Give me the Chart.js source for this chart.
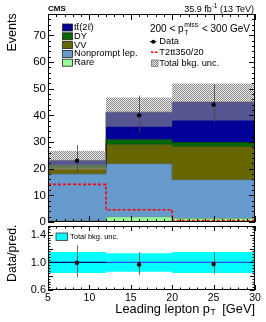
<!DOCTYPE html>
<html><head><meta charset="utf-8">
<script src="https://cdn.jsdelivr.net/npm/chart.js@4.4.1/dist/chart.umd.min.js"></script>
<style>
html,body{margin:0;padding:0;background:#fff;width:266px;height:322px;overflow:hidden}
#c1{position:absolute;left:0;top:0;z-index:2}
#c2{position:absolute;left:0;top:222px;z-index:1}
</style></head><body>
<canvas id="c1" width="266" height="232"></canvas>
<canvas id="c2" width="266" height="100"></canvas>
<script>
// ---------- data ----------
const binEdges = [5, 12, 20, 30];
const binCenters = [8.5, 16, 25];
const rare = [0.6, 2.0, 1.5];
const nonprompt = [17.5, 19.9, 14.4];
const vv = [2.5, 7.2, 12.5];
const dy = [0.9, 1.9, 1.6];
const ttbar = [1.6, 10.2, 15.0];
const bkgUnc = [3.5, 5.5, 6.9];
const signal = [14.1, 4.6, 0.5];
const dataObs = [23, 40, 44];
const dataErrUp = [5.9, 7.4, 7.7];
const dataErrDown = [4.8, 6.3, 6.6];
const yTicksMain = [0, 10, 20, 30, 40, 50, 60, 70];
const yTicksRatio = [0.6, 0.8, 1.0, 1.2, 1.4];
const xTicks = [5, 10, 15, 20, 25, 30];
const legendNames = ['tt\u0304(2\u2113)', 'DY', 'VV', 'Nonprompt lep.', 'Rare'];

const FONT = "'Liberation Sans', Arial, Helvetica, sans-serif";

// ---------- helpers ----------
function steps(vals) {
  const pts = vals.map((v, i) => ({x: binEdges[i], y: v}));
  pts.push({x: binEdges[binEdges.length - 1], y: vals[vals.length - 1]});
  return pts;
}
function makeChecker() {
  const c = document.createElement('canvas'); c.width = 2; c.height = 2;
  const g = c.getContext('2d');
  g.fillStyle = 'rgba(115,115,115,0.85)';
  g.fillRect(0, 0, 1, 1); g.fillRect(1, 1, 1, 1);
  g.fillStyle = 'rgba(210,210,210,0.35)';
  g.fillRect(1, 0, 1, 1); g.fillRect(0, 1, 1, 1);
  return g.createPattern(c, 'repeat');
}
const checker = makeChecker();

const comps = [
  {name: 'Rare', v: rare, c: '#99ff99'},
  {name: 'Nonprompt lep.', v: nonprompt, c: '#6699cc'},
  {name: 'VV', v: vv, c: '#666600'},
  {name: 'DY', v: dy, c: '#006600'},
  {name: 'tt', v: ttbar, c: '#000099'}
];
let run = [0, 0, 0];
const stackSets = comps.map((cp, i) => {
  run = run.map((r, k) => r + cp.v[k]);
  return {
    label: cp.name, data: steps(run.slice()), stepped: 'before',
    fill: i === 0 ? 'origin' : '-1', backgroundColor: cp.c,
    borderColor: 'rgba(20,20,20,0.6)', borderWidth: 1, pointRadius: 0, order: 10 - i
  };
});
const total = run.slice();
const lo = total.map((t, i) => t - bkgUnc[i]);
const hi = total.map((t, i) => t + bkgUnc[i]);
const ratio = dataObs.map((d, i) => d / total[i]);
const rUp = dataErrUp.map((e, i) => e / total[i]);
const rDn = dataErrDown.map((e, i) => e / total[i]);
const rLo = total.map((t, i) => 1 - bkgUnc[i] / t);
const rHi = total.map((t, i) => 1 + bkgUnc[i] / t);

// ---------- plugins ----------
function line(ctx, x1, y1, x2, y2) { ctx.beginPath(); ctx.moveTo(x1, y1); ctx.lineTo(x2, y2); ctx.stroke(); }

function frameTicks(o) {
  return {
    id: 'frameTicks',
    afterDatasetsDraw(chart) {
      const {ctx, chartArea: a, scales: {x, y}} = chart;
      ctx.save(); ctx.strokeStyle = '#000'; ctx.lineWidth = 1;
      for (let v = x.min; v <= x.max + 1e-9; v += 1) {
        const px = Math.round(x.getPixelForValue(v)) + 0.5;
        const len = (Math.round(v) % 5 === 0) ? o.xMaj : o.xMin;
        line(ctx, px, a.bottom, px, a.bottom - len);
        line(ctx, px, a.top, px, a.top + len);
      }
      for (let k = 0; ; k++) {
        const v = y.min + k * o.yMinStep;
        if (v > y.max + 1e-9) break;
        const py = Math.round(y.getPixelForValue(v)) + 0.5;
        const len = (k % o.yPer === 0) ? o.yMaj : o.yMin;
        line(ctx, a.left, py, a.left + len, py);
        line(ctx, a.right, py, a.right - len, py);
      }
      ctx.strokeRect(a.left + 0.5, a.top + 0.5, a.width - 1, a.height - 1);
      ctx.restore();
    }
  };
}
const errBars = {
  id: 'errBars',
  beforeDatasetDraw(chart, args) {
    const ds = chart.data.datasets[args.index];
    if (!ds.errUp) return;
    const {ctx, scales: {x, y}} = chart;
    ctx.save(); ctx.strokeStyle = 'rgba(70,70,70,0.8)'; ctx.lineWidth = 1;
    ds.data.forEach((p, i) => {
      const px = Math.round(x.getPixelForValue(p.x)) + 0.5;
      line(ctx, px, y.getPixelForValue(p.y + ds.errUp[i]), px, y.getPixelForValue(p.y - ds.errDn[i]));
    });
    ctx.restore();
  }
};
function txt(ctx, s, x, y, size, opt) {
  opt = opt || {};
  ctx.font = (opt.bold ? 'bold ' : '') + size + 'px ' + FONT;
  ctx.fillStyle = opt.color || '#000';
  ctx.textAlign = opt.align || 'left';
  ctx.textBaseline = opt.base || 'middle';
  ctx.fillText(s, x, y);
  return ctx.measureText(s).width;
}
const mainText = {
  id: 'mainText',
  afterDraw(chart) {
    const ctx = chart.ctx;
    ctx.save();
    txt(ctx, 'CMS', 48, 9, 8, {bold: true});
    // lumi
    ctx.font = '9px ' + FONT; const w1 = ctx.measureText('35.9 fb').width;
    ctx.font = '6.5px ' + FONT; const w2 = ctx.measureText('-1').width;
    ctx.font = '9px ' + FONT; const w3 = ctx.measureText(' (13 TeV)').width;
    let sx = 254 - (w1 + w2 + w3);
    txt(ctx, '35.9 fb', sx, 9.5, 9);
    txt(ctx, '-1', sx + w1, 6.5, 6.5);
    txt(ctx, ' (13 TeV)', sx + w1 + w2, 9.5, 9);
    // Events
    ctx.save(); ctx.translate(15.5, 13.3); ctx.rotate(-Math.PI / 2);
    txt(ctx, 'Events', 0, 0, 12.5, {align: 'right', base: 'alphabetic'});
    ctx.restore();
    // left legend
    const rows = [27.5, 36.3, 45.1, 53.9, 62.7];
    const legCols = ['#000099', '#006600', '#666600', '#6699cc', '#99ff99'];
    rows.forEach((ry, i) => {
      ctx.fillStyle = legCols[i]; ctx.fillRect(62.5, ry - 3.5, 10, 7);
      ctx.strokeStyle = '#222'; ctx.lineWidth = 0.8; ctx.strokeRect(62.5, ry - 3.5, 10, 7);
      txt(ctx, legendNames[i], 74, ry, 9.3);
    });
    // right legend header
    const hw = txt(ctx, '200 < p', 150, 29, 10);
    const sw = txt(ctx, 'miss', 150 + hw + 0.5, 25, 6.8);
    txt(ctx, 'T', 150 + hw + 0.5, 32.8, 6.8);
    txt(ctx, ' < 300 GeV', 150 + hw + sw + 1.5, 29, 10);
    // Data
    ctx.strokeStyle = '#000'; ctx.lineWidth = 1;
    line(ctx, 150, 41.7, 156.5, 41.7);
    ctx.beginPath(); ctx.arc(153.3, 41.7, 2, 0, Math.PI * 2); ctx.fillStyle = '#000'; ctx.fill();
    txt(ctx, 'Data', 159.3, 41.7, 9.3);
    // signal
    ctx.strokeStyle = '#ff0000'; ctx.lineWidth = 1.6; ctx.setLineDash([2.5, 1.5]);
    line(ctx, 151, 52.3, 157.5, 52.3); ctx.setLineDash([]);
    txt(ctx, 'T2tt350/20', 159.3, 52.3, 9.3);
    // bkg unc
    ctx.fillStyle = checker; ctx.fillRect(151.5, 60, 6.5, 6.5);
    ctx.strokeStyle = '#777'; ctx.lineWidth = 0.8; ctx.strokeRect(151.5, 60, 6.5, 6.5);
    txt(ctx, 'Total bkg. unc.', 159.3, 63.3, 9.3);
    ctx.restore();
  }
};
const ratioText = {
  id: 'ratioText',
  afterDraw(chart) {
    const ctx = chart.ctx;
    ctx.save();
    ctx.save(); ctx.translate(15.5, 2.5); ctx.rotate(-Math.PI / 2);
    txt(ctx, 'Data/pred.', 0, 0, 12.3, {align: 'right', base: 'alphabetic'});
    ctx.restore();
    // legend
    ctx.fillStyle = '#00ffff'; ctx.fillRect(56, 11, 11.5, 7.5);
    ctx.strokeStyle = '#333'; ctx.lineWidth = 0.8; ctx.strokeRect(56, 11, 11.5, 7.5);
    txt(ctx, 'Total bkg. unc.', 70, 15, 7.5);
    // x title
    ctx.font = '12.8px ' + FONT; const a = ctx.measureText('Leading lepton p').width;
    ctx.font = '8.5px ' + FONT; const b = ctx.measureText('T').width;
    ctx.font = '12.8px ' + FONT; const c = ctx.measureText('  [GeV]').width;
    const sx = 255 - (a + b + c);
    txt(ctx, 'Leading lepton p', sx, 87, 12.8);
    txt(ctx, 'T', sx + a + 0.5, 91, 8.5);
    txt(ctx, '  [GeV]', sx + a + b, 87, 12.8);
    ctx.restore();
  }
};

function yScale(min, max, ticks, size, cb) {
  return {
    type: 'linear', min, max,
    afterFit(s) { s.width = 48; s.paddingTop = 0; s.paddingBottom = 0; },
    afterBuildTicks(s) { s.ticks = ticks.map(v => ({value: v})); },
    grid: {display: false, drawTicks: false}, border: {display: false},
    ticks: {color: '#000', padding: 2, font: {family: FONT, size}, callback: cb || (v => String(v))}
  };
}

// ---------- main chart ----------
new Chart(document.getElementById('c1'), {
  type: 'line',
  data: {
    datasets: [
      ...stackSets,
      {label: 'lo', data: steps(lo), stepped: 'before', fill: false, borderWidth: 0, pointRadius: 0, order: 3},
      {label: 'Total bkg. unc.', data: steps(hi), stepped: 'before', fill: '-1', backgroundColor: checker, borderWidth: 0, pointRadius: 0, order: 2},
      {label: 'T2tt350/20', data: steps(signal), stepped: 'before', fill: false, borderColor: '#ff0000', borderWidth: 1.6, borderDash: [3, 2], pointRadius: 0, order: 1},
      {label: 'Data', data: binCenters.map((x, i) => ({x, y: dataObs[i]})), errUp: dataErrUp, errDn: dataErrDown,
       showLine: false, pointRadius: 2.2, pointBackgroundColor: '#000', pointBorderColor: '#000', pointBorderWidth: 0, order: 0}
    ]
  },
  options: {
    responsive: false, animation: false, devicePixelRatio: 1,
    layout: {padding: {left: 0, right: 11, top: 14, bottom: 10}},
    plugins: {legend: {display: false}, tooltip: {enabled: false}},
    scales: {
      x: {type: 'linear', min: 5, max: 30, display: false},
      y: yScale(0, 78, yTicksMain, 11.5)
    }
  },
  plugins: [errBars, frameTicks({xMaj: 6, xMin: 3, yMinStep: 2, yPer: 5, yMaj: 6, yMin: 3}), mainText]
});

// ---------- ratio chart ----------
new Chart(document.getElementById('c2'), {
  type: 'line',
  data: {
    datasets: [
      {label: 'rlo', data: steps(rLo), stepped: 'before', fill: false, borderWidth: 0, pointRadius: 0, order: 5},
      {label: 'Total bkg. unc.', data: steps(rHi), stepped: 'before', fill: '-1', backgroundColor: '#00ffff', borderWidth: 0, pointRadius: 0, order: 4},
      {label: 'one', data: steps([1, 1, 1]), stepped: 'before', fill: false, borderWidth: 1.3, pointRadius: 0, order: 3,
       segment: {borderColor: c => (c.p0DataIndex === 0 ? '#000080' : '#2a4cff')}},
      {label: 'Data/pred.', data: binCenters.map((x, i) => ({x, y: ratio[i]})), errUp: rUp, errDn: rDn,
       showLine: false, pointRadius: 2.2, pointBackgroundColor: '#000', pointBorderColor: '#000', pointBorderWidth: 0, order: 0}
    ]
  },
  options: {
    responsive: false, animation: false, devicePixelRatio: 1,
    layout: {padding: {left: 0, right: 11, top: 0, bottom: 0}},
    plugins: {legend: {display: false}, tooltip: {enabled: false}},
    scales: {
      x: {
        type: 'linear', min: 5, max: 30,
        afterFit(s) { s.height = 32; s.paddingLeft = 0; s.paddingRight = 0; },
        afterBuildTicks(s) { s.ticks = xTicks.map(v => ({value: v})); },
        grid: {display: false, drawTicks: false}, border: {display: false},
        ticks: {color: '#000', padding: 2, maxRotation: 0, font: {family: FONT, size: 10.5}}
      },
      y: yScale(0.6, 1.53, yTicksRatio, 11, v => Number(v).toFixed(1))
    }
  },
  plugins: [errBars, frameTicks({xMaj: 5, xMin: 2.5, yMinStep: 0.04, yPer: 5, yMaj: 5, yMin: 2.5}), ratioText]
});
</script>
</body></html>
